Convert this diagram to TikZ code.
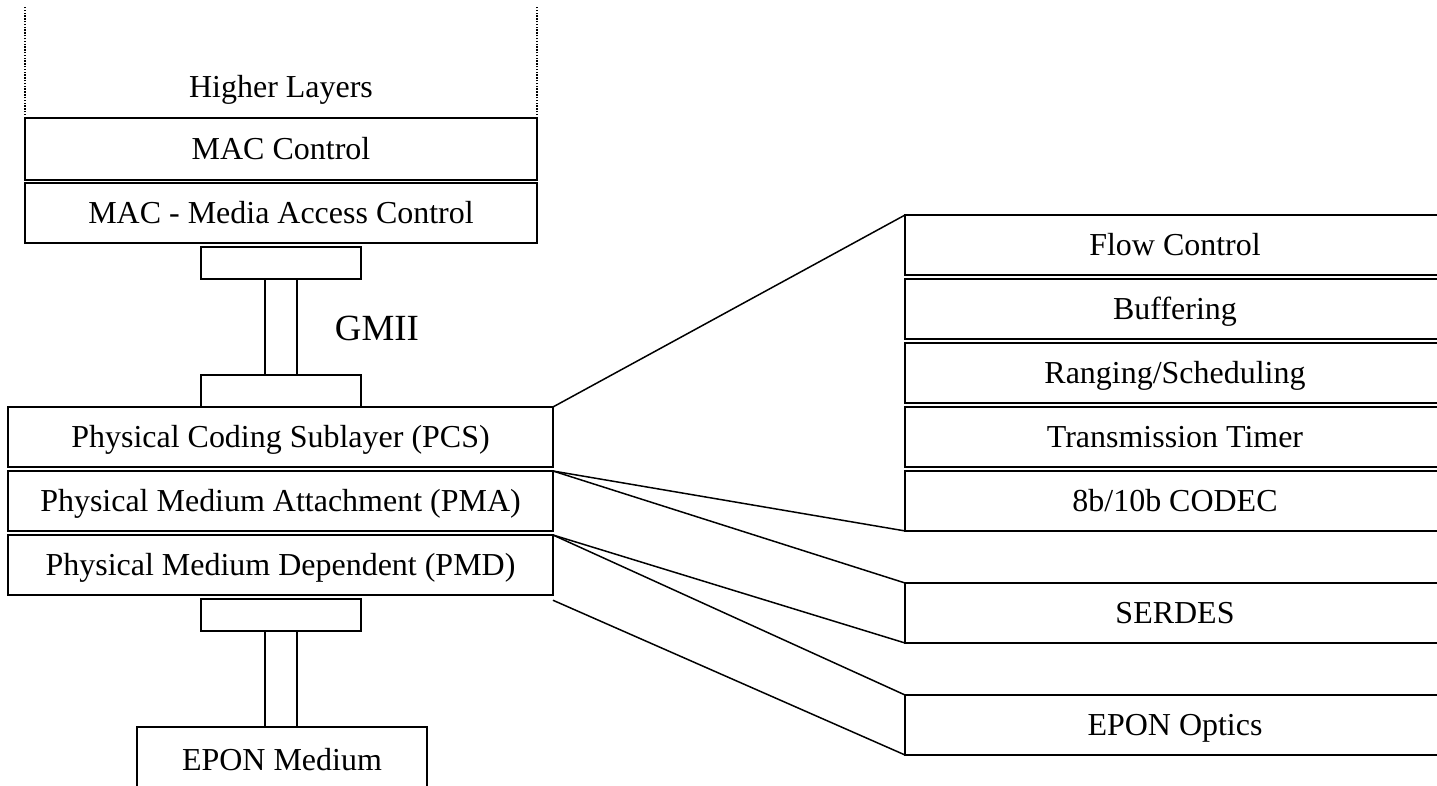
\documentclass[tikz,border=0pt]{standalone}
\usepackage{fontspec}
\setmainfont{Liberation Serif}
\usetikzlibrary{positioning}

\tikzset{
  layer/.style={draw,line width=1.1pt,minimum width=10.9cm,minimum height=1.2cm,
    inner sep=0pt,outer sep=0pt,text height=12.4pt,text depth=0pt,
    font=\fontsize{18.2}{21}\selectfont},
  sublayer/.style={layer,minimum width=10.8cm},
  plate/.style={draw,line width=0.7pt,minimum width=3.2cm,minimum height=0.64cm,
    inner sep=0pt,outer sep=0pt},
  stem/.style={plate,minimum width=0.64cm,minimum height=1.92cm},
  zoomline/.style={line width=0.85pt},
  edgedots/.style={line width=0.8pt,dash pattern=on 0.8pt off 0.8pt}
}

\begin{document}
\begin{tikzpicture}[x=0.02cm,y=-0.02cm]
  \useasboundingbox (0,0) rectangle (1437,786);
  % upper layers
  \node[layer,minimum width=10.24cm,minimum height=1.24cm] (macctl) at (281,149) {MAC Control};
  \node[layer,minimum width=10.24cm] (mac) at (281,213) {MAC - Media Access Control};
  \draw[edgedots] (macctl.north west) -- ++(0,-111);
  \draw[edgedots] (macctl.north east) -- ++(0,-111);
  \node[font=\fontsize{18.2}{21}\selectfont,text height=12.4pt,text depth=0pt,inner sep=0pt] (higher) at (281,87) {Higher Layers};
  % GMII
  \node[plate] (gmiitop) at (281,263) {};
  \node[stem] (gmiistem) at (281,327) {};
  \node[plate] (gmiibot) at (281,391) {};
  \node[font=\fontsize{21}{24}\selectfont] (gmii) at (377,328) {GMII};
  % physical layers
  \node[layer] (pcs) at (280.5,437) {Physical Coding Sublayer (PCS)};
  \node[layer,below=0.08cm of pcs] (pma) {Physical Medium Attachment (PMA)};
  \node[layer,below=0.08cm of pma] (pmd) {Physical Medium Dependent (PMD)};
  \node[plate] (mdiTop) at (281,615) {};
  \node[stem] (mdistem) at (281,679) {};
  \node[layer,minimum width=5.8cm,minimum height=1.32cm] (medium) at (282,760) {EPON Medium};
  % PCS functions
  \node[sublayer] (flow) at (1175,245) {Flow Control};
  \node[sublayer,below=0.08cm of flow] (buffer) {Buffering};
  \node[sublayer,below=0.08cm of buffer] (ranging) {Ranging/Scheduling};
  \node[sublayer,below=0.08cm of ranging] (timer) {Transmission Timer};
  \node[sublayer,below=0.08cm of timer] (codec) {8b/10b CODEC};
  \node[sublayer] (serdes) at (1175,613) {SERDES};
  \node[sublayer] (optics) at (1175,725) {EPON Optics};
  % zoom lines
  \draw[zoomline] (pcs.north east) -- (flow.north west);
  \draw[zoomline] (pma.north east) -- (codec.south west);
  \draw[zoomline] (pma.north east) -- (serdes.north west);
  \draw[zoomline] (pmd.north east) -- (serdes.south west);
  \draw[zoomline] (pmd.north east) -- (optics.north west);
  \draw[zoomline] ([yshift=-3pt]pmd.south east) -- (optics.south west);
\end{tikzpicture}
\end{document}
